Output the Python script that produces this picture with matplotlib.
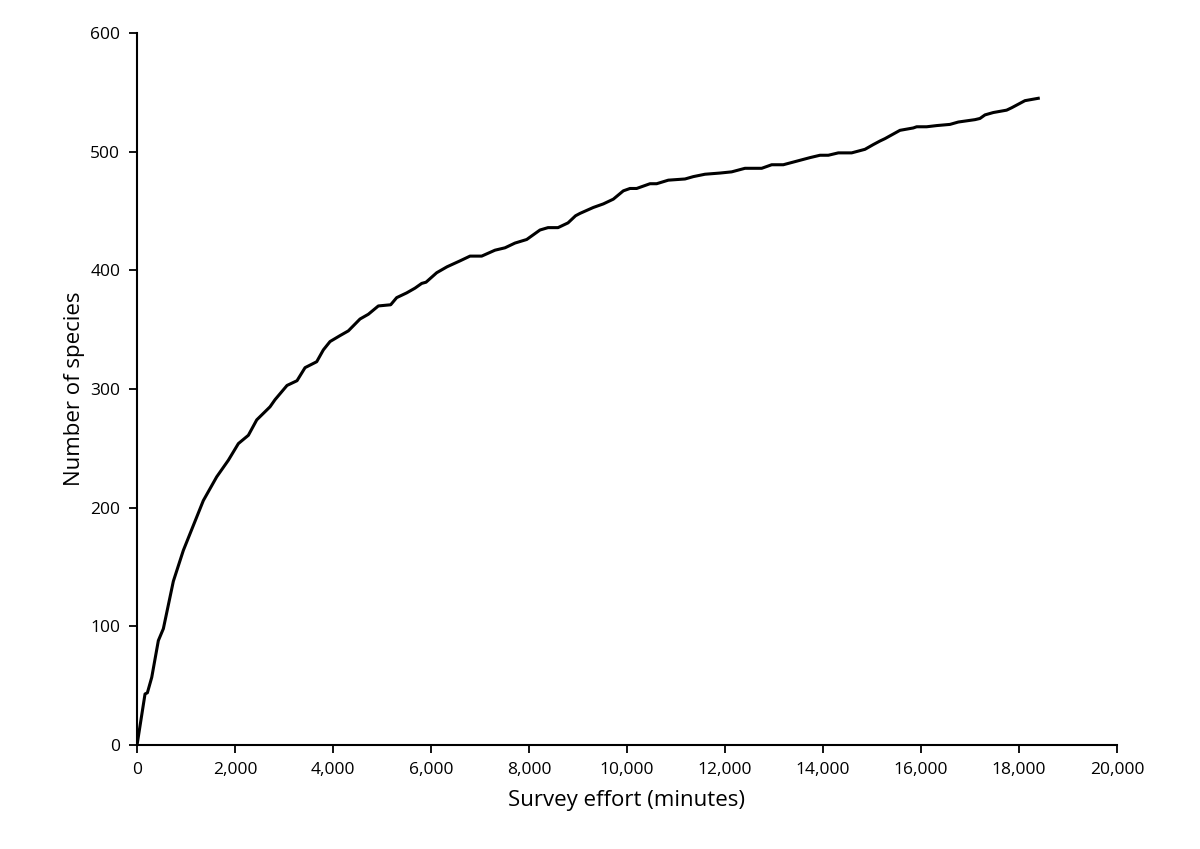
import matplotlib
matplotlib.use("Agg")
import matplotlib.pyplot as plt
from matplotlib.ticker import FuncFormatter

plt.rcParams['font.family'] = ['Open Sans', 'DejaVu Sans']

effort = [0, 163, 211, 300, 435, 537, 741, 945, 1353, 1626, 1864, 2068, 2272, 2443,
          2714, 2816, 3061, 3265, 3429, 3667, 3803, 3939, 4143, 4313, 4551, 4721,
          4925, 5177, 5299, 5503, 5673, 5810, 5898, 6116, 6327, 6592, 6796, 7034,
          7306, 7510, 7714, 7953, 8224, 8388, 8592, 8796, 8950, 9041, 9313, 9517,
          9721, 9925, 10061, 10197, 10469, 10605, 10843, 11184, 11354, 11592,
          11898, 12136, 12408, 12749, 12953, 13190, 13463, 13735, 13939, 14109,
          14313, 14585, 14857, 15027, 15163, 15265, 15571, 15843, 15912, 16116,
          16320, 16592, 16762, 16932, 17102, 17204, 17306, 17476, 17748, 17850,
          18122, 18394]
species = [0, 43, 44, 57, 88, 98, 138, 164, 206, 226, 240, 254, 261, 274,
           285, 291, 303, 307, 318, 323, 333, 340, 345, 349, 359, 363,
           370, 371, 377, 381, 385, 389, 390, 398, 403, 408, 412, 412,
           417, 419, 423, 426, 434, 436, 436, 440, 446, 448, 453, 456,
           460, 467, 469, 469, 473, 473, 476, 477, 479, 481,
           482, 483, 486, 486, 489, 489, 492, 495, 497, 497,
           499, 499, 502, 506, 509, 511, 518, 520, 521, 521,
           522, 523, 525, 526, 527, 528, 531, 533, 535, 537,
           543, 545]

x_ticks = list(range(0, 20001, 2000))
y_ticks = list(range(0, 601, 100))

fig = plt.figure(figsize=(12, 8.49), dpi=100)
ax = fig.add_axes([0.1142, 0.1225, 0.8166, 0.8386])
ax.plot(effort, species, color='black', linewidth=2.2, solid_joinstyle='round')

ax.set_xlim(0, 20000)
ax.set_ylim(0, 600)
ax.set_xticks(x_ticks)
ax.set_yticks(y_ticks)
ax.xaxis.set_major_formatter(FuncFormatter(lambda v, p: f"{int(v):,}"))
for s in ['top', 'right']:
    ax.spines[s].set_visible(False)
for s in ['left', 'bottom']:
    ax.spines[s].set_linewidth(1.5)
    ax.spines[s].set_color('black')
ax.tick_params(direction='out', length=6, width=1.3, labelsize=12.5, pad=6)
ax.set_xlabel('Survey effort (minutes)', fontsize=16, labelpad=9)
ax.set_ylabel('Number of species', fontsize=16, labelpad=4)

fig.savefig('out.png', dpi=100, facecolor='white')
